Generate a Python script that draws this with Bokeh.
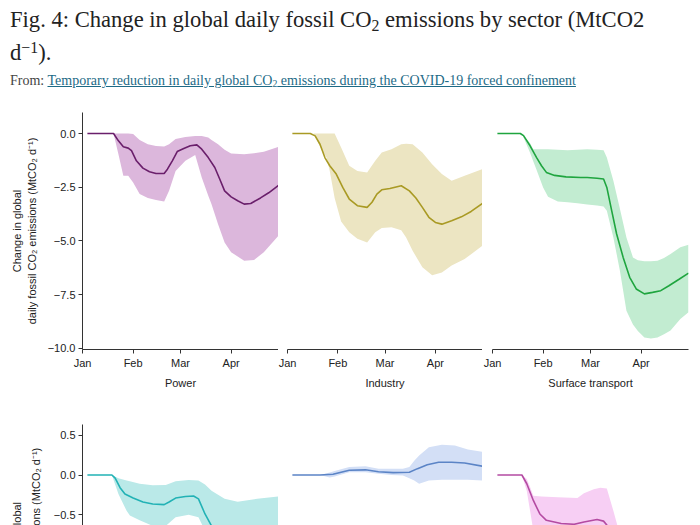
import numpy as np
import pandas as pd
from bokeh.plotting import figure
from bokeh.models import Range1d, FixedTicker, DatetimeTickFormatter, Div, Title
from bokeh.layouts import column, row
from bokeh.embed import file_html
from bokeh.resources import INLINE

# ---------------- texts ----------------
title_html = ("Fig. 4: Change in global daily fossil CO<sub>2</sub> emissions by sector (MtCO2"
              "<br>d<sup>−1</sup>).")
source_prefix = "From: "
source_link = "Temporary reduction in daily global CO<sub>2</sub> emissions during the COVID-19 forced confinement"
y_label_lines = ["Change in global", "daily fossil CO₂ emissions (MtCO₂ d⁻¹)"]
sector_names = ["Power", "Industry", "Surface transport", "Public", "Residential", "Aviation"]

# ---------------- axes ----------------
month_ticks = ["2020-01-01", "2020-02-01", "2020-03-01", "2020-04-01"]
top_yticks = [0.0, -2.5, -5.0, -7.5, -10.0]
top_ylabels = ["0.0", "−2.5", "−5.0", "−7.5", "−10.0"]
bot_yticks = [0.5, 0.0, -0.5]
bot_ylabels = ["0.5", "0.0", "−0.5"]

# ---------------- data (days since 1 Jan 2020, MtCO2 per day) ----------------
power_line_days = [3, 19, 22, 25, 28, 30, 33, 37, 41, 45, 50, 52, 55, 58, 62, 66, 70, 73, 77, 81, 84, 87, 91, 95, 99, 103, 109, 114, 120]
power_line = [0, 0, -0.34, -0.62, -0.68, -0.8, -1.27, -1.61, -1.78, -1.86, -1.86, -1.66, -1.27, -0.84, -0.70, -0.57, -0.53, -0.73, -1.12, -1.58, -2.12, -2.67, -2.95, -3.13, -3.29, -3.26, -3.0, -2.76, -2.42]
power_band_days = [3, 19, 22, 25, 28, 31, 35, 40, 45, 50, 53, 57, 63, 69, 73, 77, 79, 83, 87, 91, 99, 105, 111, 120]
power_hi = [0, 0, 0, 0, 0, -0.02, -0.3, -0.5, -0.58, -0.6, -0.5, -0.26, -0.16, -0.12, -0.12, -0.19, -0.3, -0.5, -0.75, -0.93, -0.96, -0.92, -0.85, -0.62]
power_lo = [0, 0, -0.96, -1.97, -1.97, -2.28, -2.82, -3.0, -3.1, -3.16, -2.67, -1.74, -1.27, -1.0, -2.05, -2.9, -3.29, -4.22, -5.07, -5.53, -5.92, -5.89, -5.53, -4.76]

industry_line_days = [3, 14, 17, 20, 23, 26, 30, 34, 38, 43, 49, 52, 55, 58, 63, 70, 75, 79, 83, 87, 91, 95, 101, 107, 113, 120]
industry_line = [0, 0, -0.11, -0.5, -1.12, -1.5, -1.89, -2.51, -3.05, -3.36, -3.44, -3.2, -2.82, -2.62, -2.56, -2.43, -2.67, -3.0, -3.44, -3.9, -4.14, -4.22, -4.06, -3.88, -3.63, -3.25]
industry_band_days = [3, 16, 20, 24, 26, 29, 33, 38, 43, 49, 54, 58, 64, 70, 73, 77, 83, 89, 95, 101, 109, 120]
industry_hi = [0, 0, 0, 0, 0, 0, -0.65, -1.5, -1.74, -1.81, -1.27, -0.88, -0.73, -0.5, -0.48, -0.5, -0.88, -1.43, -1.89, -2.2, -1.97, -1.66]
industry_lo = [0, 0, -0.6, -1.12, -1.74, -3.0, -4.1, -4.6, -4.9, -5.07, -4.6, -4.4, -4.37, -4.5, -4.84, -5.46, -6.23, -6.6, -6.47, -6.15, -5.85, -5.22]

transport_line_days = [3, 17, 19, 23, 27, 30, 33, 38, 45, 54, 58, 64, 68, 70, 73, 76, 80, 84, 88, 93, 98, 103, 108, 114, 120]
transport_line = [0, 0, -0.1, -0.57, -1.12, -1.5, -1.81, -1.95, -2.02, -2.05, -2.05, -2.08, -2.12, -2.51, -3.6, -4.68, -5.77, -6.7, -7.24, -7.47, -7.4, -7.32, -7.09, -6.8, -6.5]
transport_band_days = [3, 18, 23, 25, 27, 31, 34, 40, 46, 52, 58, 64, 68, 70, 74, 78, 82, 86, 89, 93, 97, 101, 105, 109, 115, 120]
transport_hi = [0, 0, -0.45, -0.73, -0.73, -0.73, -0.73, -0.76, -0.78, -0.76, -0.73, -0.75, -0.78, -1.12, -2.2, -3.5, -4.84, -5.77, -5.9, -5.95, -5.95, -5.92, -5.8, -5.61, -5.3, -5.18]
transport_lo = [0, 0, -0.9, -1.3, -1.7, -2.51, -2.95, -3.16, -3.2, -3.25, -3.31, -3.35, -3.4, -3.6, -4.84, -6.39, -8.25, -8.9, -9.2, -9.5, -9.55, -9.5, -9.35, -9.18, -8.64, -8.33]

public_line_days = [3, 18, 20, 23, 26, 31, 37, 43, 50, 53, 57, 63, 68, 71, 75, 79, 85, 95, 105, 120]
public_line = [0, 0, -0.04, -0.16, -0.24, -0.29, -0.34, -0.365, -0.373, -0.34, -0.29, -0.27, -0.264, -0.30, -0.49, -0.64, -0.85, -0.95, -0.92, -0.85]
public_band_days = [3, 18, 22, 27, 29, 35, 43, 51, 57, 65, 71, 75, 79, 87, 95, 107, 120]
public_hi = [0, 0, -0.04, -0.07, -0.08, -0.11, -0.13, -0.126, -0.08, -0.063, -0.07, -0.12, -0.197, -0.30, -0.335, -0.30, -0.27]
public_lo = [0, 0, -0.24, -0.45, -0.51, -0.57, -0.64, -0.64, -0.53, -0.50, -0.53, -0.7, -0.95, -1.3, -1.45, -1.4, -1.35]

residential_line_days = [3, 20, 28, 38, 48, 56, 65, 75, 80, 86, 93, 101, 109, 120]
residential_line = [0, 0, 0.01, 0.06, 0.065, 0.04, 0.03, 0.035, 0.08, 0.13, 0.16, 0.16, 0.15, 0.11]
residential_band_days = [3, 20, 26, 29, 38, 48, 56, 64, 71, 75, 78, 81, 87, 95, 103, 111, 120]
residential_hi = [0, 0, 0.03, 0.05, 0.1, 0.11, 0.08, 0.08, 0.08, 0.1, 0.18, 0.245, 0.35, 0.38, 0.37, 0.32, 0.29]
residential_lo = [0, 0, -0.03, -0.02, 0.035, 0.035, 0.015, 0.0, -0.006, -0.04, -0.07, -0.11, -0.07, -0.06, -0.06, -0.06, -0.07]

aviation_line_days = [3, 18, 21, 25, 29, 33, 42, 50, 56, 64, 68, 70, 74, 80, 90, 100, 110, 120]
aviation_line = [0, 0, -0.11, -0.32, -0.49, -0.57, -0.61, -0.62, -0.59, -0.56, -0.58, -0.63, -0.95, -1.4, -1.65, -1.7, -1.68, -1.65]
aviation_band_days = [3, 18, 21, 23, 25, 30, 40, 52, 56, 62, 66, 70, 74, 80, 90, 100, 110, 120]
aviation_hi = [0, 0, -0.05, -0.15, -0.26, -0.27, -0.28, -0.29, -0.23, -0.18, -0.16, -0.17, -0.45, -0.9, -1.2, -1.3, -1.25, -1.2]
aviation_lo = [0, 0, -0.2, -0.45, -0.7, -0.8, -0.82, -0.82, -0.8, -0.78, -0.8, -0.85, -1.2, -1.8, -2.0, -2.1, -2.05, -2.0]

line_colors = ["#6a1f6b", "#a99a24", "#1fa53f", "#22b2b5", "#5b84c6", "#b44ba2"]
fill_colors = ["#dcb7dc", "#ece5c2", "#c2ecd1", "#bae9e8", "#d3dff6", "#f7cff4"]

START = pd.Timestamp("2020-01-01")
END = pd.Timestamp("2020-04-30")
TEXT = "#222222"
FONT = "Liberation Sans"


def to_dates(days):
    return (START + pd.to_timedelta(np.asarray(days, dtype=float), unit="D")).to_numpy()


def style_axis(ax):
    ax.axis_line_color = "#333333"
    ax.axis_line_width = 1
    ax.major_tick_line_color = "#333333"
    ax.major_tick_out = 4
    ax.major_tick_in = 0
    ax.minor_tick_line_color = None
    ax.major_label_text_font = FONT
    ax.major_label_text_font_size = "11px"
    ax.major_label_text_color = TEXT
    ax.axis_label_text_font = FONT
    ax.axis_label_text_font_size = "11px"
    ax.axis_label_text_font_style = "normal"
    ax.axis_label_text_color = TEXT
    ax.major_label_standoff = 3
    ax.axis_label_standoff = 5


def panel(idx, width, height, yr, left, right, top, bottom, show_x, show_y,
          ld, lv, bd, lo, hi, yticks, ylabels):
    p = figure(width=width, height=height,
               x_range=Range1d(START.to_pydatetime(), END.to_pydatetime()),
               y_range=Range1d(*yr), x_axis_type="datetime",
               x_axis_location="below" if show_x else None,
               y_axis_location="left" if show_y else None,
               toolbar_location=None, output_backend="svg",
               min_border_left=left, min_border_right=right,
               min_border_top=top, min_border_bottom=bottom)
    p.outline_line_color = None
    p.grid.visible = False
    p.background_fill_color = "white"
    p.border_fill_color = "white"
    p.varea(x=to_dates(bd), y1=lo, y2=hi, fill_color=fill_colors[idx], fill_alpha=1.0)
    p.line(x=to_dates(ld), y=lv, line_color=line_colors[idx], line_width=1.6)
    if show_x:
        ax = p.xaxis[0]
        style_axis(ax)
        ax.ticker = FixedTicker(ticks=[pd.Timestamp(t).value / 1e6 for t in month_ticks])
        ax.formatter = DatetimeTickFormatter(days="%b", months="%b", years="%b",
                                             hours="%b", minutes="%b", seconds="%b")
        ax.axis_label = sector_names[idx]
    if show_y:
        ay = p.yaxis[0]
        style_axis(ay)
        ay.ticker = FixedTicker(ticks=yticks)
        ay.major_label_overrides = dict(zip(yticks, ylabels))
    return p


TOP_Y = (-10.06, 0.98)
BOT_Y = (-0.635, 0.635)

f1 = panel(0, 278, 310, TOP_Y, 82, 0, 12, 61, True, True,
           power_line_days, power_line, power_band_days, power_lo, power_hi, top_yticks, top_ylabels)
f1.yaxis[0].axis_label = "\n".join(y_label_lines)
f1.yaxis[0].axis_label_standoff = 7
f2 = panel(1, 204, 310, TOP_Y, 9, 0, 12, 61, True, False,
           industry_line_days, industry_line, industry_band_days, industry_lo, industry_hi, top_yticks, top_ylabels)
f3 = panel(2, 218, 310, TOP_Y, 10, 12, 12, 61, True, False,
           transport_line_days, transport_line, transport_band_days, transport_lo, transport_hi, top_yticks, top_ylabels)

g1 = panel(3, 278, 115, BOT_Y, 82, 0, 14, 0, False, True,
           public_line_days, public_line, public_band_days, public_lo, public_hi, bot_yticks, bot_ylabels)
# the lower panels continue below the visible area, so their y label (centred on the
# full-height panel) is only partly visible: each line is anchored below the cut
g1.add_layout(Title(text=y_label_lines[1], align="left", offset=-109, standoff=14,
                    vertical_align="top",
                    text_font=FONT, text_font_size="11px", text_font_style="normal",
                    text_color=TEXT), "left")
g1.add_layout(Title(text=y_label_lines[0], align="left", offset=-59, standoff=0,
                    vertical_align="bottom",
                    text_font=FONT, text_font_size="11px", text_font_style="normal",
                    text_color=TEXT), "left")
g2 = panel(4, 204, 115, BOT_Y, 9, 0, 14, 0, False, False,
           residential_line_days, residential_line, residential_band_days, residential_lo, residential_hi, bot_yticks, bot_ylabels)
g3 = panel(5, 218, 115, BOT_Y, 10, 12, 14, 0, False, False,
           aviation_line_days, aviation_line, aviation_band_days, aviation_lo, aviation_hi, bot_yticks, bot_ylabels)

sub_style = "font-size:70%;line-height:0;vertical-align:-0.25em;"
sup_style = "font-size:70%;line-height:0;vertical-align:0.45em;"
header = Div(
    text=(
        '<div style="font-family:\'Liberation Serif\',serif;color:#222;white-space:nowrap;padding-left:10px;">'
        '<div style="font-size:22.6px;line-height:33px;margin-top:3px;">'
        + title_html.replace("<sub>", '<sub style="' + sub_style + '">').replace("<sup>", '<sup style="' + sup_style + '">')
        + '</div>'
        '<div style="font-size:14px;line-height:18px;margin-top:3px;color:#444;">' + source_prefix
        + '<a href="#" style="color:#1d6a86;text-decoration:underline;">'
        + source_link.replace("<sub>", '<sub style="' + sub_style + '">') + '</a></div>'
        '</div>'
    ),
    width=700, height=100, margin=0,
)

layout = column(header, row(f1, f2, f3), row(g1, g2, g3))
open("out.html", "w").write(file_html(layout, INLINE))
